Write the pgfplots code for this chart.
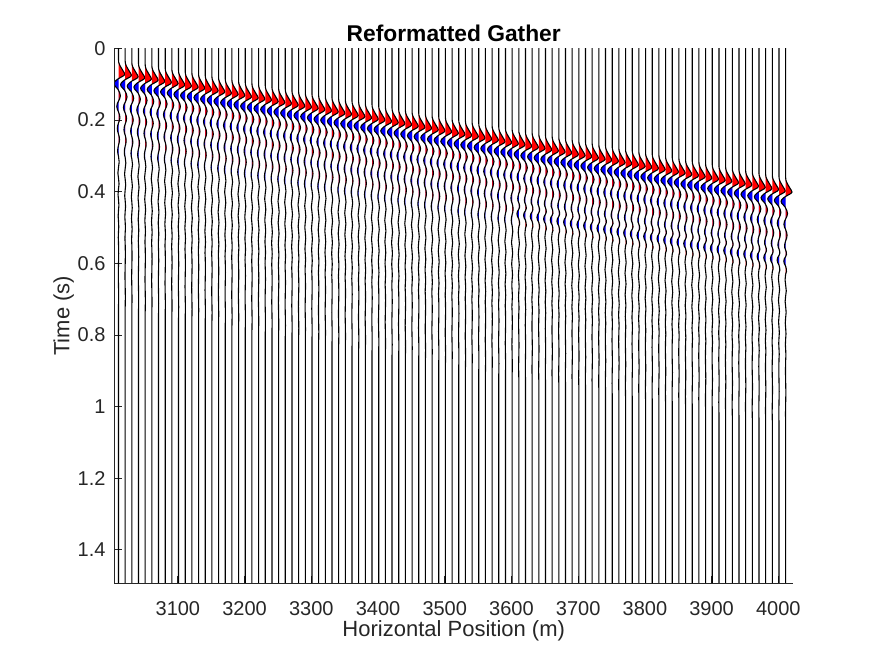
\documentclass[border=0pt]{standalone}
\usepackage{pgfplots}
\pgfplotsset{compat=1.18}
\usepackage{pgfplotstable}
\usepackage{fontspec}
\setmainfont{Liberation Sans}
\definecolor{axgray}{RGB}{38,38,38}

% wavelet template: t = time relative to the red peak (s), a = amplitude (m)
\pgfplotstableread{
t a
-1.000 0
-0.040 0
-0.034 0.3
-0.028 1.3
-0.022 2.9
-0.016 4.8
-0.010 6.7
-0.005 8.4
0.000 9.5
0.004 7.8
0.008 4.0
0.012 0.0
0.016 -3.0
0.021 -5.8
0.026 -6.9
0.031 -6.0
0.036 -3.6
0.042 -0.8
0.045 0.0
0.052 1.8
0.060 2.8
0.068 1.8
0.075 0.0
0.082 -1.8
0.090 -2.6
0.098 -1.7
0.105 0.0
0.113 1.5
0.121 2.1
0.129 1.4
0.136 0.0
0.144 -1.3
0.152 -1.8
0.160 -1.2
0.167 0.0
0.175 1.1
0.183 1.5
0.191 1.0
0.198 0.0
0.206 -0.9
0.214 -1.3
0.222 -0.9
0.229 0.0
0.245 1.0
0.260 0.0
0.276 -0.9
0.290 0.0
0.306 0.8
0.320 0.0
0.336 -0.7
0.350 0.0
0.366 0.6
0.380 0.0
0.396 -0.5
0.410 0.0
0.426 0.4
0.440 0.0
0.456 -0.35
0.470 0.0
0.500 0.3
0.530 0.0
0.560 -0.3
0.590 0.0
0.620 0.25
0.650 0.0
1.600 0
}\lineA
\pgfplotstableread{
t a
-1.000 0
-0.040 0
-0.034 0.3
-0.028 1.3
-0.022 2.9
-0.016 4.8
-0.010 6.7
-0.005 8.4
0.000 9.5
0.004 7.8
0.008 4.0
0.012 0.0
0.016 -3.0
0.021 -5.8
0.026 -6.9
0.031 -6.0
0.036 -3.6
0.042 -0.8
0.045 0.0
0.052 1.8
0.060 2.8
0.068 1.8
0.075 0.0
0.082 -1.8
0.090 -2.6
0.098 -1.7
0.105 0.0
0.113 1.5
0.121 2.1
0.129 1.4
0.136 0.0
0.144 -1.2
0.150 -1.6
0.156 -1.3
0.162 0.0
0.168 1.0
0.174 1.2
0.180 0.0
0.186 -2.0
0.193 -2.8
0.200 -2.0
0.207 0.0
0.215 1.0
0.222 1.2
0.229 0.0
0.245 -0.9
0.260 0.0
0.276 0.9
0.290 0.0
0.306 -0.8
0.320 0.0
0.336 0.7
0.350 0.0
0.366 -0.6
0.380 0.0
0.396 0.5
0.410 0.0
0.426 -0.4
0.440 0.0
0.456 0.35
0.470 0.0
0.500 -0.3
0.530 0.0
0.560 0.3
0.590 0.0
0.620 -0.25
0.650 0.0
1.600 0
}\lineB
\pgfplotstableread{
t a
-0.040 0
-0.034 0.3
-0.028 1.3
-0.022 2.9
-0.016 4.8
-0.010 6.7
-0.005 8.4
0.000 9.5
0.004 7.8
0.008 4.0
0.012 0.0
0.045 0.0
0.052 1.8
0.060 2.8
0.068 1.8
0.075 0.0
0.105 0.0
0.113 1.5
0.121 2.1
0.129 1.4
0.136 0.0
0.167 0.0
0.175 1.1
0.183 1.5
0.191 1.0
0.198 0.0
}\posA
\pgfplotstableread{
t a
-0.040 0
-0.034 0.3
-0.028 1.3
-0.022 2.9
-0.016 4.8
-0.010 6.7
-0.005 8.4
0.000 9.5
0.004 7.8
0.008 4.0
0.012 0.0
0.045 0.0
0.052 1.8
0.060 2.8
0.068 1.8
0.075 0.0
0.105 0.0
0.113 1.5
0.121 2.1
0.129 1.4
0.136 0.0
0.162 0.0
0.168 1.0
0.174 1.2
0.180 0.0
0.207 0.0
0.215 1.0
0.222 1.2
0.229 0.0
}\posB
\pgfplotstableread{
t a
0.012 0
0.016 -3.0
0.021 -5.8
0.026 -6.9
0.031 -6.0
0.036 -3.6
0.042 -0.8
0.045 0
0.075 0
0.082 -1.8
0.090 -2.6
0.098 -1.7
0.105 0
0.136 0
0.144 -1.3
0.152 -1.8
0.160 -1.2
0.167 0
0.198 0
0.206 -0.9
0.214 -1.3
0.222 -0.9
0.229 0
}\negA
\pgfplotstableread{
t a
0.012 0
0.016 -3.0
0.021 -5.8
0.026 -6.9
0.031 -6.0
0.036 -3.6
0.042 -0.8
0.045 0
0.075 0
0.082 -1.8
0.090 -2.6
0.098 -1.7
0.105 0
0.136 0
0.144 -1.2
0.150 -1.6
0.156 -1.3
0.162 0
0.180 0
0.186 -2.0
0.193 -2.8
0.200 -2.0
0.207 0
}\negB

\newcommand\trace[5]{% x, t0, line, pos, neg
  \edef\doit{%
    \noexpand\addplot[fill=red,draw=none] table[x expr=\noexpand\thisrow{a}+#1, y expr=\noexpand\thisrow{t}+#2]{\noexpand#4};
    \noexpand\addplot[fill=blue,draw=none] table[x expr=\noexpand\thisrow{a}+#1, y expr=\noexpand\thisrow{t}+#2]{\noexpand#5};
    \noexpand\addplot[black,line width=0.55pt] table[x expr=\noexpand\thisrow{a}+#1, y expr=\noexpand\thisrow{t}+#2]{\noexpand#3};
  }\doit}

\begin{document}
\begin{tikzpicture}
\begin{axis}[
  name=ax, at={(0,0)}, anchor=south west,
  scale only axis, width=339.25pt, height=267.25pt,
  xmin=3005, xmax=4022, ymin=0, ymax=1.493,
  y dir=reverse,
  axis line style={draw=none},
  xtick={3100,3200,3300,3400,3500,3600,3700,3800,3900,4000},
  ytick={0,0.2,0.4,0.6,0.8,1,1.2,1.4},
  scaled x ticks=false,
  /pgf/number format/1000 sep={},
  /pgf/number format/assume math mode=true,
  tick align=inside, major tick length=3.5pt,
  xtick pos=lower, ytick pos=left,
  tick style={axgray, line width=0.4pt},
  ticklabel style={font=\fontsize{10}{12}\selectfont, text=axgray},
  xticklabel style={yshift=-5.5pt},
  yticklabel style={xshift=-1pt},
  label style={font=\fontsize{11}{13}\selectfont, text=axgray},
  xlabel={Horizontal Position (m)},
  ylabel={Time (s)},
  xlabel style={yshift=4pt},
  ylabel style={yshift=-5pt},
  title={Reformatted Gather},
  title style={font=\bfseries\fontsize{11.4}{13}\selectfont, text=black, yshift=-6pt},
]
\foreach \xx/\tz in {3011/0.072,3021/0.075,3031/0.079,3041/0.082,3051/0.085,3061/0.088,3071/0.092,3081/0.095,3091/0.098,3101/0.102,
3111/0.105,3121/0.108,3131/0.111,3141/0.115,3151/0.118,3161/0.121,3171/0.125,3181/0.128,3191/0.131,3201/0.135,
3211/0.138,3221/0.141,3231/0.144,3241/0.148,3251/0.151,3261/0.154,3271/0.158,3281/0.161,3291/0.164,3301/0.167,
3311/0.171,3321/0.174,3331/0.177,3341/0.181,3351/0.184,3361/0.187,3371/0.190,3381/0.194,3391/0.197,3401/0.200,
3411/0.204,3421/0.207,3431/0.210,3441/0.213,3451/0.217,3461/0.220,3471/0.223,3481/0.227,3491/0.230,3501/0.233,
3511/0.237,3521/0.240,3531/0.243,3541/0.246,3551/0.250,3561/0.253,3571/0.256,3581/0.260,3591/0.263,3601/0.266}
{\trace{\xx}{\tz}{\lineA}{\posA}{\negA}}
\foreach \xx/\tz in {3611/0.269,3621/0.273,3631/0.276,3641/0.279,3651/0.283,3661/0.286,3671/0.289,3681/0.292,3691/0.296,3701/0.299,
3711/0.302,3721/0.306,3731/0.309,3741/0.312,3751/0.315,3761/0.319,3771/0.322,3781/0.325,3791/0.329,3801/0.332,
3811/0.335,3821/0.338,3831/0.342,3841/0.345,3851/0.348,3861/0.352,3871/0.355,3881/0.358,3891/0.362,3901/0.365,
3911/0.368,3921/0.371,3931/0.375,3941/0.378,3951/0.381,3961/0.385,3971/0.388,3981/0.391,3991/0.394,4001/0.398,4011/0.401}
{\trace{\xx}{\tz}{\lineB}{\posB}{\negB}}
\end{axis}
\draw[axgray, line width=0.45pt] (ax.north west) -- (ax.south west) -- (ax.south east);
\pgfresetboundingbox
\useasboundingbox (-57.25pt,-37pt) rectangle (380.75pt,291.5pt);
\end{tikzpicture}
\end{document}
